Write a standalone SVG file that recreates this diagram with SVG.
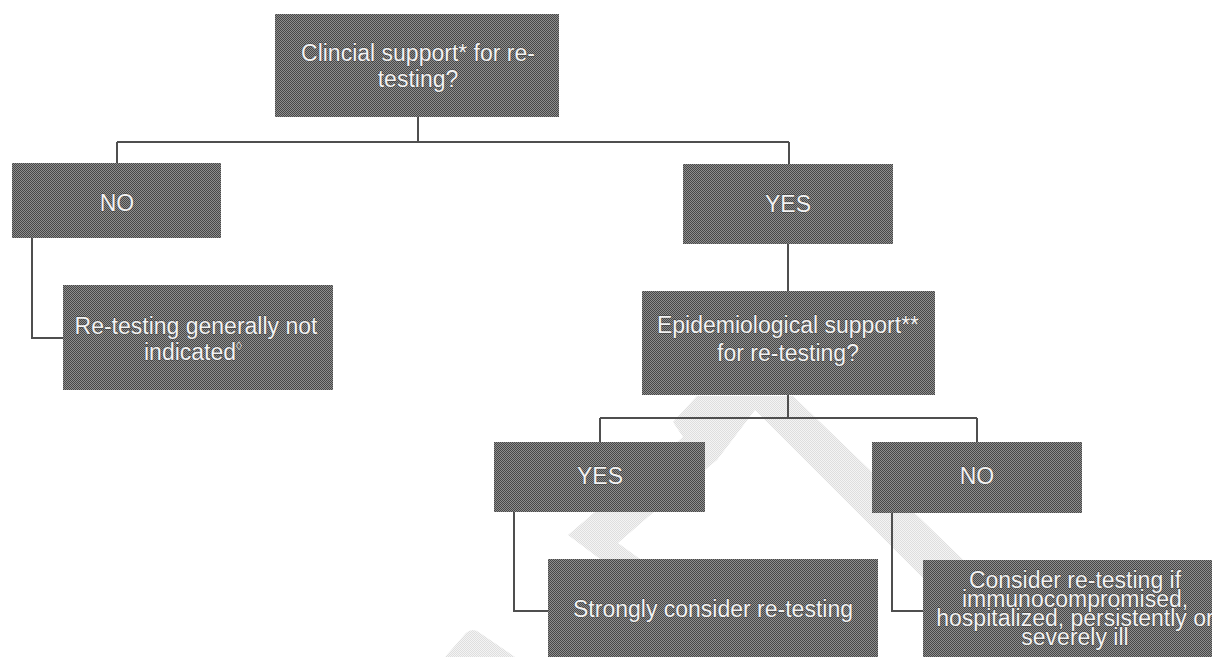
<svg xmlns="http://www.w3.org/2000/svg" width="1212" height="657" viewBox="0 0 1212 657">
  <defs>
    <pattern id="hatch" patternUnits="userSpaceOnUse" width="2" height="2">
      <rect x="0" y="0" width="2" height="2" fill="#8e8e8e"/>
      <rect x="0" y="0" width="1" height="1" fill="#474747"/>
      <rect x="1" y="1" width="1" height="1" fill="#474747"/>
    </pattern>
    <pattern id="wm" patternUnits="userSpaceOnUse" width="2" height="2">
      <rect x="0" y="0" width="2" height="2" fill="#f4f4f4"/>
      <rect x="0" y="0" width="1" height="1" fill="#dedede"/>
      <rect x="1" y="1" width="1" height="1" fill="#dedede"/>
    </pattern>
    <style>
      .box { fill: url(#hatch); }
      .lbl { font-family: "Liberation Sans", Arial, sans-serif; font-size: 23px; fill: #f2f2f2; stroke: #3c3c3c; stroke-width: 0.8px; paint-order: stroke fill; text-anchor: middle; }
      .sup { font-size: 12px; }
      .conn { fill: none; stroke: #4f4f4f; stroke-width: 2; }
      .wm { fill: url(#wm); }
    </style>
  </defs>

  <rect x="0" y="0" width="1212" height="657" fill="#ffffff"/>

  <g id="watermark">
    <path class="wm" d="M697,396 L793,396 L1005,600 L945,600 L755,410 L717,460 L648,517 L618,543 L640,559 L600,559 L568,535 L683,437 L673,422 Z"/>
    <path class="wm" d="M445,657 L466,633 Q473,627 480,633 L515,657 Z"/>
  </g>

  <g id="connectors">
    <path class="conn" d="M418,117 V142 M117,142 H789 M117,142 V163 M789,142 V164"/>
    <path class="conn" d="M32,238 V338 H63"/>
    <path class="conn" d="M788,244 V291"/>
    <path class="conn" d="M788,395 V418 M600,418 H977 M600,418 V442 M977,418 V442"/>
    <path class="conn" d="M514,512 V611 H548"/>
    <path class="conn" d="M892,513 V611 H923"/>
  </g>

  <g id="node-clinical">
    <rect class="box" x="275" y="14" width="284" height="103"/>
    <text class="lbl" x="418" y="61">Clincial support* for re-</text>
    <text class="lbl" x="418" y="87">testing?</text>
  </g>

  <g id="node-no1">
    <rect class="box" x="12" y="163" width="209" height="75"/>
    <text class="lbl" x="117" y="211">NO</text>
  </g>

  <g id="node-yes1">
    <rect class="box" x="683" y="164" width="210" height="80"/>
    <text class="lbl" x="788" y="212">YES</text>
  </g>

  <g id="node-not-indicated">
    <rect class="box" x="63" y="285" width="270" height="105"/>
    <text class="lbl" x="196" y="334">Re-testing generally not</text>
    <text class="lbl" x="193" y="360">indicated<tspan class="sup" dy="-10">◊</tspan></text>
  </g>

  <g id="node-epi">
    <rect class="box" x="642" y="291" width="293" height="104"/>
    <text class="lbl" x="788" y="333">Epidemiological support**</text>
    <text class="lbl" x="788" y="361">for re-testing?</text>
  </g>

  <g id="node-yes2">
    <rect class="box" x="494" y="442" width="211" height="70"/>
    <text class="lbl" x="600" y="484">YES</text>
  </g>

  <g id="node-no2">
    <rect class="box" x="872" y="442" width="210" height="71"/>
    <text class="lbl" x="977" y="484">NO</text>
  </g>

  <g id="node-strongly">
    <rect class="box" x="548" y="559" width="330" height="110"/>
    <text class="lbl" x="713" y="617">Strongly consider re-testing</text>
  </g>

  <g id="node-consider">
    <rect class="box" x="923" y="560" width="330" height="110"/>
    <text class="lbl" x="1075" y="588">Consider re-testing if</text>
    <text class="lbl" x="1075" y="607">immunocompromised,</text>
    <text class="lbl" x="1075" y="626">hospitalized, persistently or</text>
    <text class="lbl" x="1075" y="645">severely ill</text>
  </g>
</svg>
